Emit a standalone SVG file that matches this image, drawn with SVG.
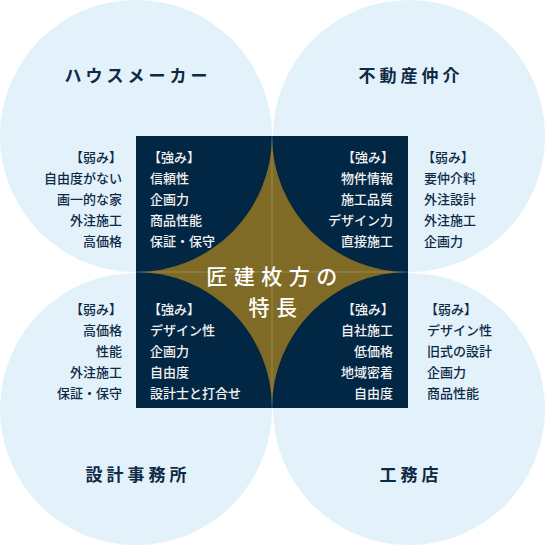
<svg xmlns="http://www.w3.org/2000/svg" width="545" height="545" viewBox="0 0 545 545">
<style>
.circ{fill:#e3f1fb}
.title{font-family:"Noto Sans CJK JP","Noto Sans",sans-serif;font-size:17px;font-weight:700;fill:#0d2a45;letter-spacing:4px;text-anchor:middle}
.weak{font-family:"Noto Sans CJK JP","Noto Sans",sans-serif;font-size:13px;font-weight:500;fill:#0d2a45}
.strong{font-family:"Noto Sans CJK JP","Noto Sans",sans-serif;font-size:13px;font-weight:500;fill:#f2f2f2}
.center{font-family:"Noto Sans CJK JP","Noto Sans",sans-serif;font-size:21px;font-weight:500;fill:#ffffff;letter-spacing:6.5px;text-anchor:middle}
.end{text-anchor:end}
</style>
<rect width="545" height="545" fill="#ffffff"/>
<g id="circles">
<circle id="c-house" class="circ" cx="136" cy="136" r="136"/>
<circle id="c-estate" class="circ" cx="409" cy="136" r="136"/>
<circle id="c-design" class="circ" cx="136" cy="409" r="136"/>
<circle id="c-builder" class="circ" cx="409" cy="409" r="136"/>
</g>
<g id="core">
<rect x="136" y="136" width="272" height="272" fill="#022744"/>
<path d="M136,272 A136,136 0 0 0 272,136 A136,136 0 0 0 408,272 A136,136 0 0 0 272,408 A136,136 0 0 0 136,272 Z" fill="#806b26"/>
<g stroke="#ffffff" stroke-opacity="0.25" stroke-width="0.8">
<line x1="272" y1="136" x2="272" y2="408"/>
<line x1="136" y1="272" x2="408" y2="272"/>
</g>
<text class="center" x="275" y="284">匠建枚方の</text>
<text class="center" x="276" y="315">特長</text>
</g>
<g id="node-house">
<text class="title" x="138" y="82">ハウスメーカー</text>
<g class="weak end">
<text x="122" y="161.5">【弱み】</text>
<text x="122" y="182.5">自由度がない</text>
<text x="122" y="203.5">画一的な家</text>
<text x="122" y="224.5">外注施工</text>
<text x="122" y="245.5">高価格</text>
</g>
<g class="strong">
<text x="148" y="161.5">【強み】</text>
<text x="150" y="182.5">信頼性</text>
<text x="150" y="203.5">企画力</text>
<text x="150" y="224.5">商品性能</text>
<text x="150" y="245.5">保証・保守</text>
</g>
</g>
<g id="node-estate">
<text class="title" x="411" y="82">不動産仲介</text>
<g class="strong end">
<text x="394" y="161.5">【強み】</text>
<text x="393" y="182.5">物件情報</text>
<text x="393" y="203.5">施工品質</text>
<text x="393" y="224.5">デザイン力</text>
<text x="393" y="245.5">直接施工</text>
</g>
<g class="weak">
<text x="422" y="161.5">【弱み】</text>
<text x="424" y="182.5">要仲介料</text>
<text x="424" y="203.5">外注設計</text>
<text x="424" y="224.5">外注施工</text>
<text x="424" y="245.5">企画力</text>
</g>
</g>
<g id="node-design">
<text class="title" x="138" y="481">設計事務所</text>
<g class="weak end">
<text x="122" y="313.5">【弱み】</text>
<text x="122" y="334.5">高価格</text>
<text x="122" y="355.5">性能</text>
<text x="122" y="376.5">外注施工</text>
<text x="122" y="397.5">保証・保守</text>
</g>
<g class="strong">
<text x="148" y="313.5">【強み】</text>
<text x="150" y="334.5">デザイン性</text>
<text x="150" y="355.5">企画力</text>
<text x="150" y="376.5">自由度</text>
<text x="150" y="397.5">設計士と打合せ</text>
</g>
</g>
<g id="node-builder">
<text class="title" x="411" y="481">工務店</text>
<g class="strong end">
<text x="394" y="313.5">【強み】</text>
<text x="393" y="334.5">自社施工</text>
<text x="393" y="355.5">低価格</text>
<text x="393" y="376.5">地域密着</text>
<text x="393" y="397.5">自由度</text>
</g>
<g class="weak">
<text x="425" y="313.5">【弱み】</text>
<text x="427" y="334.5">デザイン性</text>
<text x="427" y="355.5">旧式の設計</text>
<text x="427" y="376.5">企画力</text>
<text x="427" y="397.5">商品性能</text>
</g>
</g>
<g id="connectors"></g>
</svg>
